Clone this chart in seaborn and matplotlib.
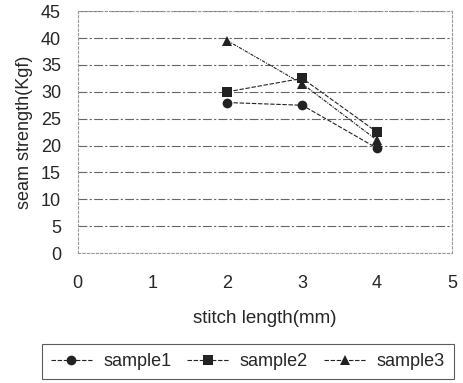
import pandas as pd
import seaborn as sns
import matplotlib
matplotlib.use('Agg')
import matplotlib.pyplot as plt

sns.set_style('white')
matplotlib.rcParams['font.family'] = ['Liberation Sans', 'DejaVu Sans']

stitch_length = [2, 3, 4]
sample1 = [28, 27.5, 19.5]
sample2 = [30, 32.5, 22.5]
sample3 = [39.5, 31.5, 21]
names = ['sample1', 'sample2', 'sample3']

df = pd.DataFrame({
    'stitch length': stitch_length * 3,
    'strength': sample1 + sample2 + sample3,
    'sample': [n for n in names for _ in stitch_length],
})

fig = plt.figure(figsize=(4.63, 3.83), dpi=100)
ax = fig.add_axes([0.168, 0.339, 0.808, 0.632])

ax = sns.lineplot(data=df, x='stitch length', y='strength', hue='sample', style='sample',
                  markers={'sample1': 'o', 'sample2': 's', 'sample3': '^'},
                  dashes={'sample1': (4, 1.5), 'sample2': (4, 1.5), 'sample3': (3, 1, 1, 1)},
                  palette={'sample1': '#222222', 'sample2': '#222222', 'sample3': '#222222'},
                  markersize=7, linewidth=0.8, markeredgewidth=0, ax=ax, legend=False)

ax.set_xlim(0, 5)
ax.set_ylim(0, 45)
ax.set_xticks(range(0, 6))
ax.set_yticks(range(0, 50, 5))
ax.yaxis.grid(True, color='#666666', linewidth=0.8, linestyle=(0, (8, 2, 2, 2)))
ax.set_axisbelow(True)
for s in ax.spines.values():
    s.set_color('#999999')
    s.set_linewidth(0.8)
    s.set_linestyle((0, (2, 2)))
ax.tick_params(axis='both', labelsize=13, length=3, direction='in', color='#888888')
ax.tick_params(axis='x', pad=16)
ax.tick_params(axis='y', pad=12)
ax.set_xlabel('stitch length(mm)', fontsize=13.5, labelpad=13)
ax.set_ylabel('seam strength(Kgf)', fontsize=13, labelpad=6)

handles = []
for n, m in zip(names, ['o', 's', '^']):
    h, = ax.plot([], [], color='#222222', marker=m, markersize=7, linewidth=0.8,
                 linestyle=(0, (4, 1.5)), markeredgewidth=0)
    handles.append(h)
leg = fig.legend(handles, names, loc='center', bbox_to_anchor=(0.535, 0.056), ncol=3,
                 fontsize=13, frameon=True, fancybox=False, edgecolor='#333333',
                 handlelength=2.3, columnspacing=0.9, borderpad=0.5, handletextpad=0.6)
leg.get_frame().set_linewidth(0.8)

fig.savefig('out.png', dpi=100)
